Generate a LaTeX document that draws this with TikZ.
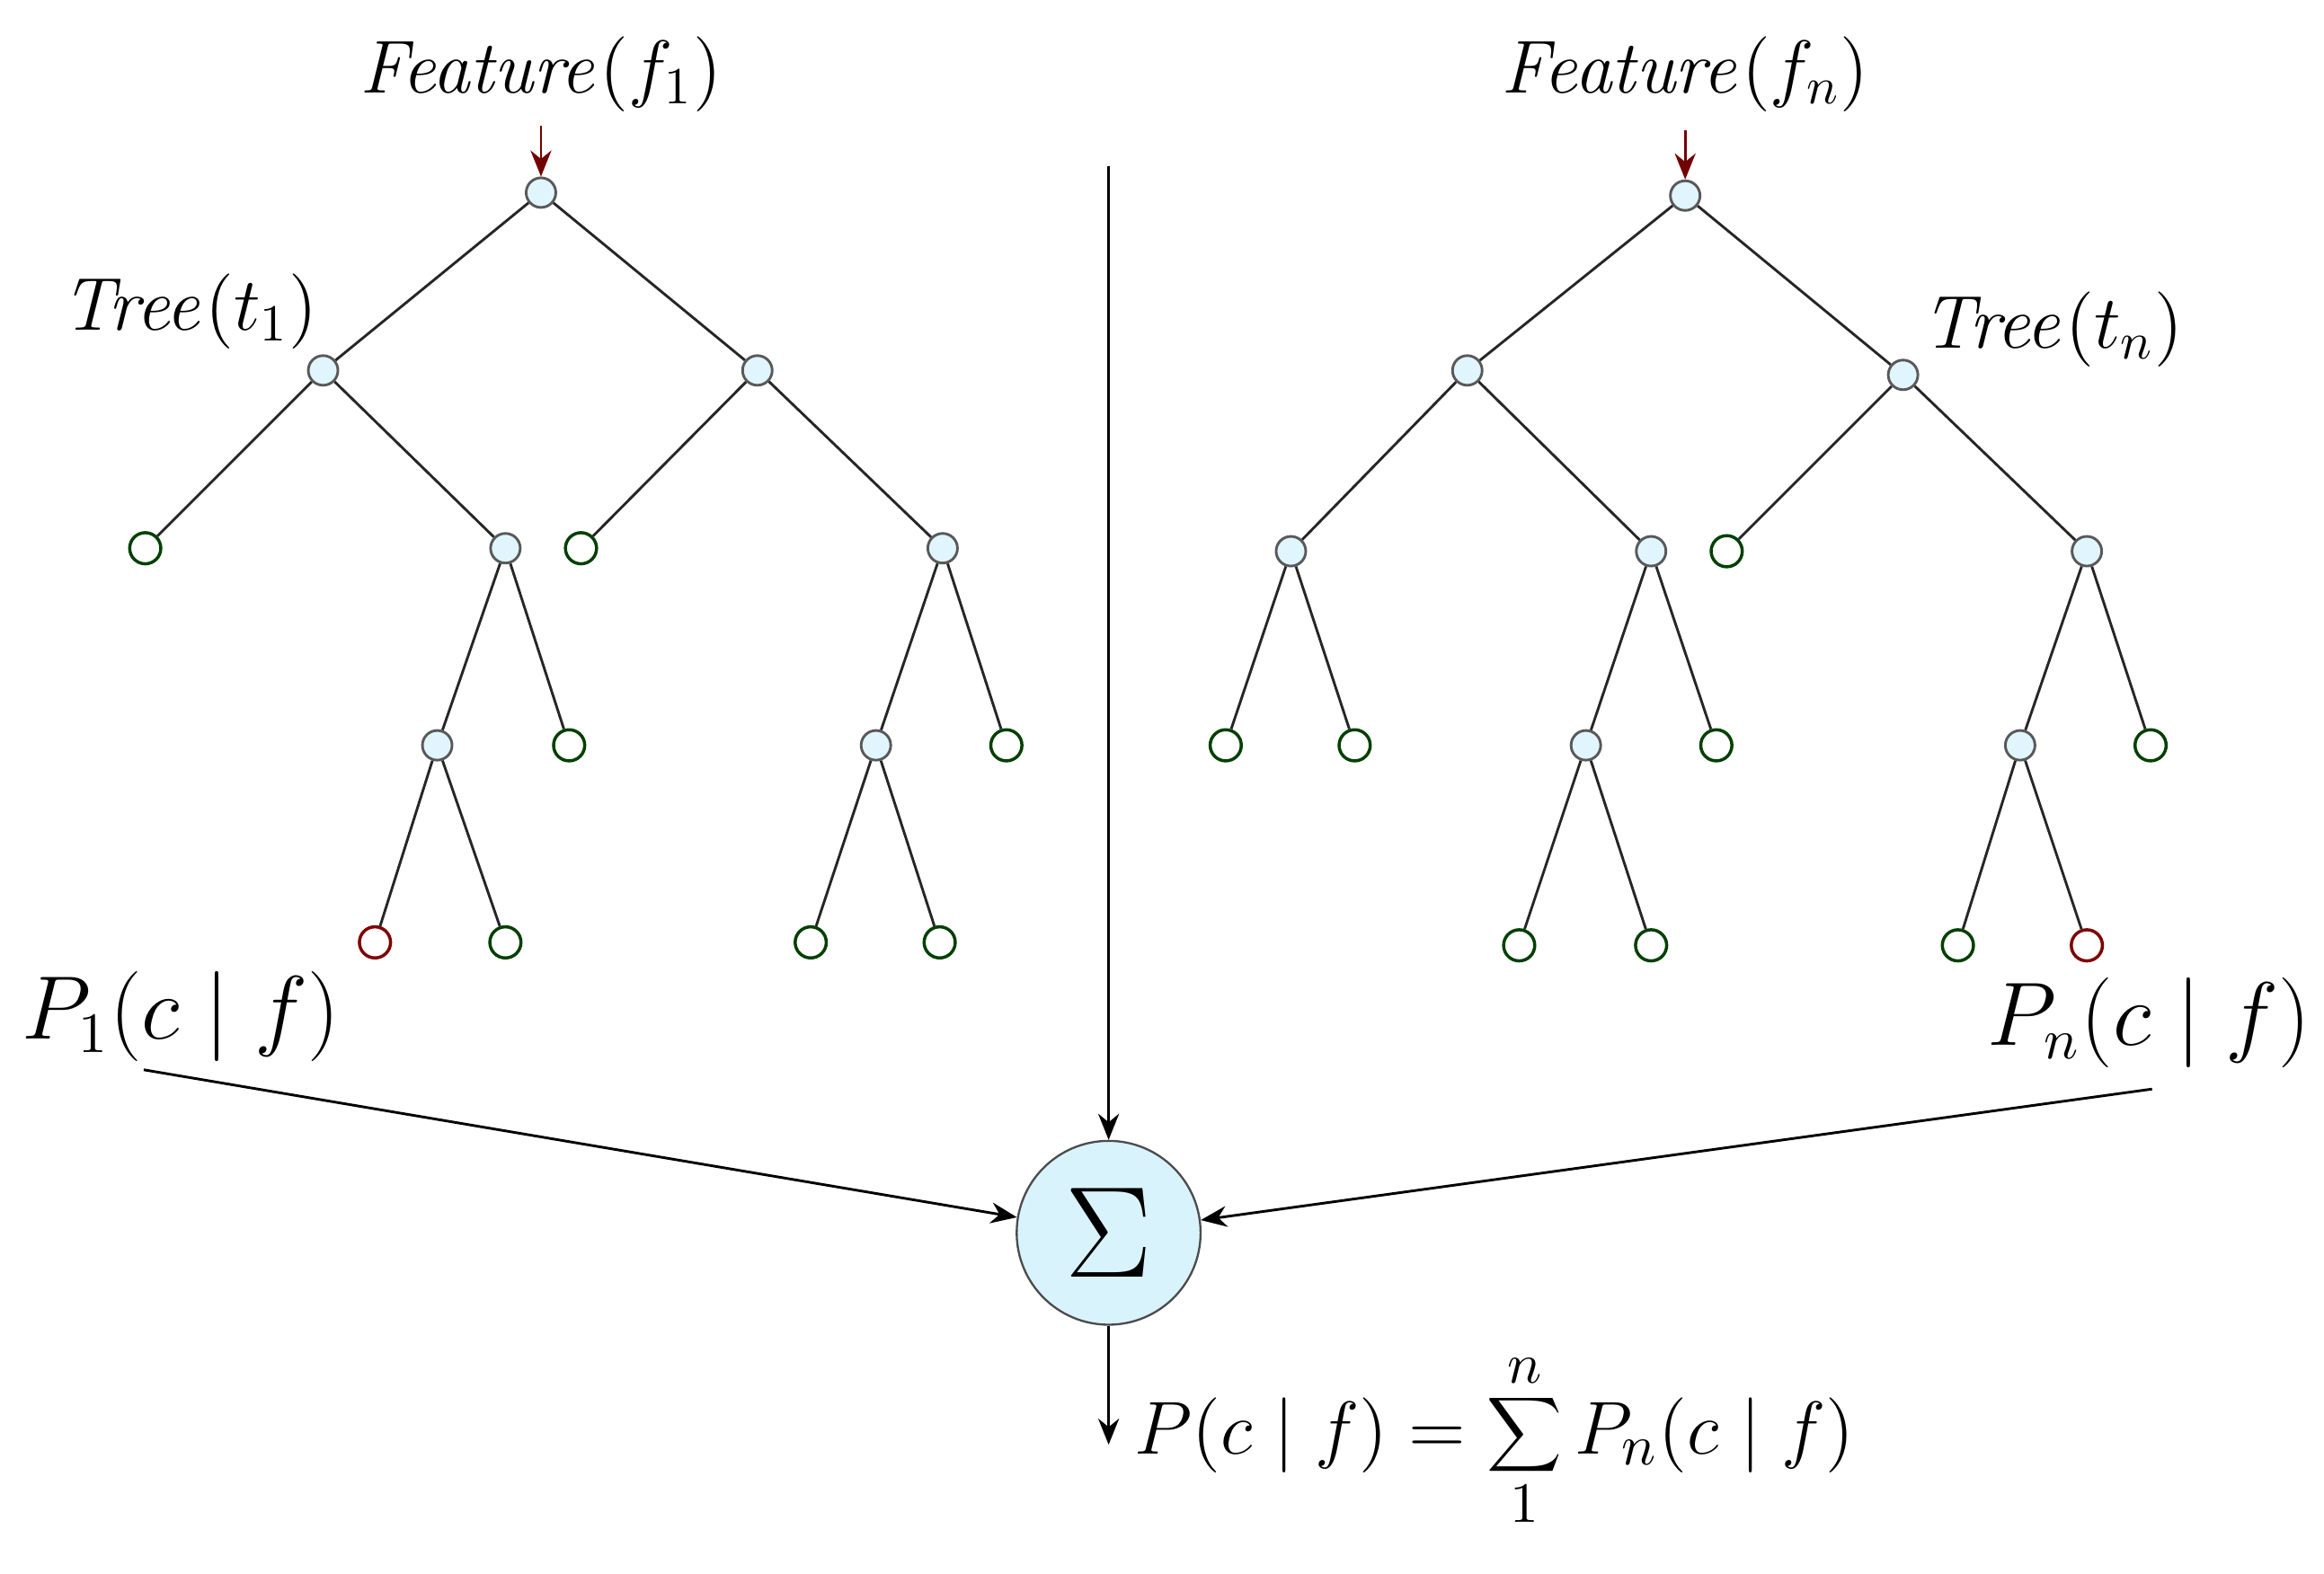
\documentclass[tikz,border=0pt]{standalone}
\usetikzlibrary{arrows.meta}
\begin{document}
\begin{tikzpicture}[x=0.01cm,y=-0.01cm,
 int/.style={circle,draw=gray!70!black,fill=cyan!12,minimum size=0.2cm,inner sep=0pt,line width=0.5pt},
 leaf/.style={circle,draw=green!25!black,fill=white,minimum size=0.21cm,inner sep=0pt,line width=0.6pt},
 red/.style={leaf,draw=red!50!black},
 edge/.style={draw=black!85,line width=0.5pt},
 arr/.style={draw,line width=0.5pt,-{Stealth[length=5pt,width=4pt]}},
 lbl/.style={font=\fontsize{14}{17}\selectfont,inner sep=0pt}]
\useasboundingbox (0,0) rectangle (1568,1062);
% left tree
\node[int] (a) at (365,130){};
\node[int] (a1) at (218,250){}; \node[int] (a2) at (511,250){};
\node[leaf] (a11) at (98,370){}; \node[int] (a12) at (341,370){};
\node[leaf] (a21) at (392,370){}; \node[int] (a22) at (636,370){};
\node[int] (a121) at (295,503){}; \node[leaf] (a122) at (384,503){};
\node[int] (a221) at (591,503){}; \node[leaf] (a222) at (679,503){};
\node[red] (a1211) at (253,636){}; \node[leaf] (a1212) at (341,636){};
\node[leaf] (a2211) at (547,636){}; \node[leaf] (a2212) at (634,636){};
\foreach \p/\c in {a/a1,a/a2,a1/a11,a1/a12,a2/a21,a2/a22,a12/a121,a12/a122,a22/a221,a22/a222,a121/a1211,a121/a1212,a221/a2211,a221/a2212}
 \draw[edge] (\p) -- (\c);
% right tree
\node[int] (b) at (1137,132){};
\node[int] (b1) at (990,250){}; \node[int] (b2) at (1284,253){};
\node[int] (b11) at (871,372){}; \node[int] (b12) at (1114,372){};
\node[leaf] (b21) at (1165,372){}; \node[int] (b22) at (1408,372){};
\node[leaf] (b111) at (827,503){}; \node[leaf] (b112) at (914,503){};
\node[int] (b121) at (1070,503){}; \node[leaf] (b122) at (1158,503){};
\node[int] (b221) at (1363,503){}; \node[leaf] (b222) at (1451,503){};
\node[leaf] (b1211) at (1025,638){}; \node[leaf] (b1212) at (1114,638){};
\node[leaf] (b2211) at (1321,638){}; \node[red] (b2212) at (1408,638){};
\foreach \p/\c in {b/b1,b/b2,b1/b11,b1/b12,b2/b21,b2/b22,b11/b111,b11/b112,b12/b121,b12/b122,b22/b221,b22/b222,b121/b1211,b121/b1212,b221/b2211,b221/b2212}
 \draw[edge] (\p) -- (\c);
% labels
\node[lbl] (fa) at (365,50){$\mathit{Feature}(f_1)$};
\node[lbl] (fb) at (1137,50){$\mathit{Feature}(f_n)$};
\coordinate (fa0) at (365,85); \coordinate (fb0) at (1137,88);
\draw[arr,draw=red!45!black] (fa0) -- (a);
\draw[arr,draw=red!45!black] (fb0) -- (b);
\node[lbl] (ta) at (128,210){$\mathit{Tree}(t_1)$};
\node[lbl] (tb) at (1385,222){$\mathit{Tree}(t_n)$};
\node[lbl,font=\fontsize{16}{19}\selectfont] (pa) at (122,686){$P_1(c\mid f)$};
\node[lbl,font=\fontsize{16}{19}\selectfont] (pb) at (1450,690){$P_n(c\mid f)$};
% sigma
\node[circle,draw=gray!60!black,fill=cyan!15,minimum size=1.24cm,inner sep=0pt,font=\fontsize{26}{28}\selectfont] (s) at (748,832){$\Sigma$};
\coordinate (top) at (748,112);
\draw[arr] (top) -- (s);
\coordinate (pa0) at (97,722); \coordinate (pb0) at (1452,735);
\draw[arr] (pa0) -- (s);
\draw[arr] (pb0) -- (s);
\coordinate (bot) at (748,975);
\draw[arr] (s) -- (bot);
\node[lbl,anchor=west,font=\fontsize{15}{18}\selectfont] (form) at (765,972){$\displaystyle P(c\mid f)=\sum_{1}^{n}P_n(c\mid f)$};
\end{tikzpicture}
\end{document}
